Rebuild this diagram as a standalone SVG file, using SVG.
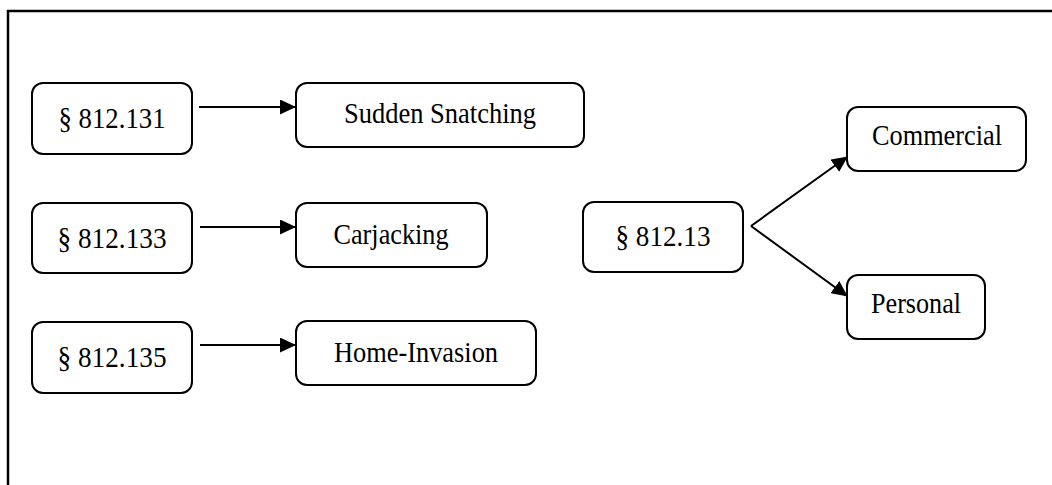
<svg xmlns="http://www.w3.org/2000/svg" width="1052" height="485" viewBox="0 0 1052 485">
<style>
.box{fill:#fff;stroke:#000;stroke-width:2}
.lbl{font-family:"Liberation Serif","Times New Roman",serif;font-size:30px;fill:#000;text-anchor:middle}
.con{stroke:#000;stroke-width:2;fill:none;marker-end:url(#ah)}
.frame{stroke:#000;stroke-width:2.5;fill:none}
</style>
<defs>
<marker id="ah" markerUnits="userSpaceOnUse" markerWidth="16" markerHeight="15" refX="15" refY="7.5" orient="auto">
<path d="M0,0 L16,7.5 L0,15 Z" fill="#000"/>
</marker>
</defs>
<rect width="1052" height="485" fill="#fff"/>
<path class="frame" d="M8,485 V11 H1052"/>
<g id="connectors">
<line class="con" x1="199" y1="107" x2="295" y2="107"/>
<line class="con" x1="200" y1="227" x2="295" y2="227"/>
<line class="con" x1="200" y1="345" x2="295" y2="345"/>
<line class="con" x1="751" y1="226" x2="847" y2="157"/>
<line class="con" x1="751" y1="226" x2="847" y2="296"/>
</g>
<g id="n131"><rect class="box" x="32" y="83" width="160" height="71" rx="11"/><text class="lbl" x="112" y="128" textLength="107" lengthAdjust="spacingAndGlyphs">§ 812.131</text></g>
<g id="n133"><rect class="box" x="32" y="203" width="160" height="70" rx="11"/><text class="lbl" x="112" y="248" textLength="109" lengthAdjust="spacingAndGlyphs">§ 812.133</text></g>
<g id="n135"><rect class="box" x="32" y="322" width="160" height="71" rx="11"/><text class="lbl" x="112" y="367" textLength="109" lengthAdjust="spacingAndGlyphs">§ 812.135</text></g>
<g id="sudden"><rect class="box" x="296" y="83" width="288" height="64" rx="11"/><text class="lbl" x="440" y="123" textLength="192" lengthAdjust="spacingAndGlyphs">Sudden Snatching</text></g>
<g id="carjacking"><rect class="box" x="296" y="203" width="191" height="64" rx="11"/><text class="lbl" x="391" y="244" textLength="115" lengthAdjust="spacingAndGlyphs">Carjacking</text></g>
<g id="home"><rect class="box" x="296" y="321" width="240" height="64" rx="11"/><text class="lbl" x="416" y="362" textLength="164" lengthAdjust="spacingAndGlyphs">Home-Invasion</text></g>
<g id="n13"><rect class="box" x="583" y="202" width="160" height="70" rx="11"/><text class="lbl" x="663" y="246" textLength="95" lengthAdjust="spacingAndGlyphs">§ 812.13</text></g>
<g id="commercial"><rect class="box" x="847" y="107" width="179" height="64" rx="11"/><text class="lbl" x="937" y="145" textLength="130" lengthAdjust="spacingAndGlyphs">Commercial</text></g>
<g id="personal"><rect class="box" x="847" y="275" width="138" height="64" rx="11"/><text class="lbl" x="916" y="313" textLength="90" lengthAdjust="spacingAndGlyphs">Personal</text></g>
</svg>
